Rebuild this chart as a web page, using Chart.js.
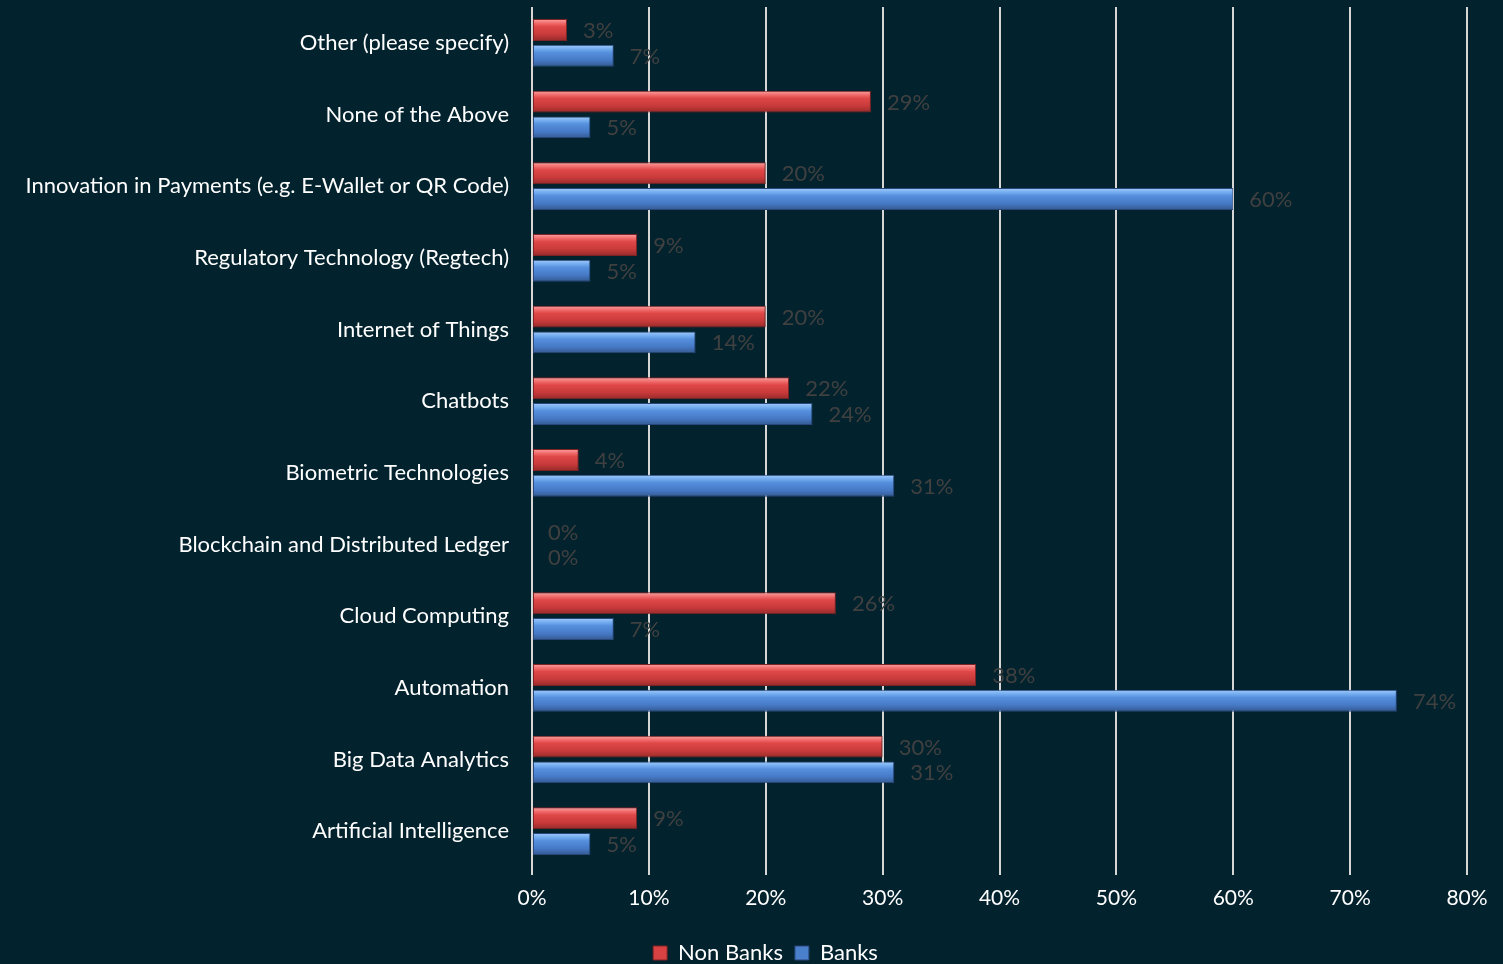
<!DOCTYPE html>
<html>
<head>
<meta charset="utf-8">
<script src="https://cdn.jsdelivr.net/npm/chart.js@4.4.0/dist/chart.umd.min.js"></script>
<style>
  html, body { margin: 0; padding: 0; background: #02222d; }
  #wrap { width: 1503px; height: 964px; position: relative; }
</style>
</head>
<body>
<div id="wrap"><canvas id="c" width="1503" height="964"></canvas></div>
<script>
const categories = [
  'Other (please specify)',
  'None of the Above',
  'Innovation in Payments (e.g. E-Wallet or QR Code)',
  'Regulatory Technology (Regtech)',
  'Internet of Things',
  'Chatbots',
  'Biometric Technologies',
  'Blockchain and Distributed Ledger',
  'Cloud Computing',
  'Automation',
  'Big Data Analytics',
  'Artificial Intelligence'
];
const nonBanks = [3, 29, 20, 9, 20, 22, 4, 0, 26, 38, 30, 9];
const banks    = [7, 5, 60, 5, 14, 24, 31, 0, 7, 74, 31, 5];
const xTicks = [0, 10, 20, 30, 40, 50, 60, 70, 80];

const FONT = 'Lato, "Open Sans", sans-serif';

// vertical gradient giving each bar a bevelled look
// (uses the bar's laid-out position, so the chart is updated once more after creation)
function barFill(stops) {
  return function (ctx) {
    const el = ctx.element;
    const chart = ctx.chart;
    if (!el || !isFinite(el.y) || !isFinite(el.height) || !chart.chartArea) return stops[2];
    const h = el.height;
    const g = chart.ctx.createLinearGradient(0, el.y - h / 2, 0, el.y + h / 2);
    g.addColorStop(0, stops[0]);
    g.addColorStop(0.2, stops[1]);
    g.addColorStop(0.35, stops[2]);
    g.addColorStop(0.7, stops[3]);
    g.addColorStop(1, stops[4]);
    return g;
  };
}

const valueLabels = {
  id: 'valueLabels',
  afterDatasetsDraw(chart) {
    const c = chart.ctx;
    c.save();
    c.font = '22px ' + FONT;
    c.fillStyle = '#404040';
    c.textAlign = 'left';
    c.textBaseline = 'middle';
    chart.data.datasets.forEach((ds, i) => {
      chart.getDatasetMeta(i).data.forEach((el, j) => {
        c.fillText(ds.data[j] + '%', el.x + 16, el.y + 1);
      });
    });
    c.restore();
  }
};

// place the legend row under the axis labels, a little right of centre
const legendShift = {
  id: 'legendShift',
  afterLayout(chart) {
    const lg = chart.legend;
    if (lg) {
      lg.top += 10; lg.bottom += 10;
      lg.left += 32; lg.right += 32;
    }
  }
};

const chart = new Chart(document.getElementById('c'), {
  type: 'bar',
  data: {
    labels: categories,
    datasets: [
      {
        label: 'Non Banks',
        data: nonBanks,
        backgroundColor: barFill(['#fba4a4', '#f06a6a', '#df4747', '#c83a3a', '#952a2a']),
        borderColor: '#7e2323',
        borderWidth: 1,
        borderSkipped: false
      },
      {
        label: 'Banks',
        data: banks,
        backgroundColor: barFill(['#a2cbfa', '#72abef', '#5690dd', '#4679c6', '#34598f']),
        borderColor: '#28477a',
        borderWidth: 1,
        borderSkipped: false
      }
    ]
  },
  options: {
    indexAxis: 'y',
    responsive: false,
    animation: false,
    devicePixelRatio: 1,
    layout: { padding: { top: 7, right: 36, left: 0, bottom: 0 } },
    datasets: {
      bar: { categoryPercentage: 0.72, barPercentage: 0.85 }
    },
    scales: {
      x: {
        min: 0,
        max: 80,
        afterBuildTicks(scale) { scale.ticks = xTicks.map(v => ({ value: v })); },
        afterFit(scale) { scale.height = 53; },
        grid: { color: '#d6d6d6', lineWidth: 2, drawTicks: true, tickLength: 8 },
        border: { display: false },
        ticks: {
          color: '#ffffff',
          font: { family: FONT, size: 21 },
          padding: 11,
          callback: v => v + '%'
        }
      },
      y: {
        afterFit(scale) {
          scale.width = 532;
          scale.paddingTop = 0;
          scale.paddingBottom = 0;
        },
        grid: { display: false },
        border: { display: false },
        ticks: {
          color: '#ffffff',
          font: { family: FONT, size: 22 },
          padding: 15
        }
      }
    },
    plugins: {
      legend: {
        position: 'bottom',
        labels: {
          color: '#ffffff',
          font: { family: FONT, size: 22 },
          boxWidth: 14,
          boxHeight: 14,
          padding: 12,
          generateLabels(chart) {
            const fills = ['#d94242', '#4a7fcc'];
            const strokes = ['#7e2323', '#28477a'];
            return chart.data.datasets.map((ds, i) => ({
              text: ds.label,
              fillStyle: fills[i],
              strokeStyle: strokes[i],
              lineWidth: 1,
              datasetIndex: i,
              fontColor: '#ffffff'
            }));
          }
        }
      },
      tooltip: { enabled: false }
    }
  },
  plugins: [valueLabels, legendShift, {
    id: 'bg',
    beforeDraw(chart) {
      const c = chart.ctx;
      c.save();
      c.fillStyle = '#02222d';
      c.fillRect(0, 0, chart.width, chart.height);
      c.restore();
    }
  }]
});
chart.update();
</script>
</body>
</html>
